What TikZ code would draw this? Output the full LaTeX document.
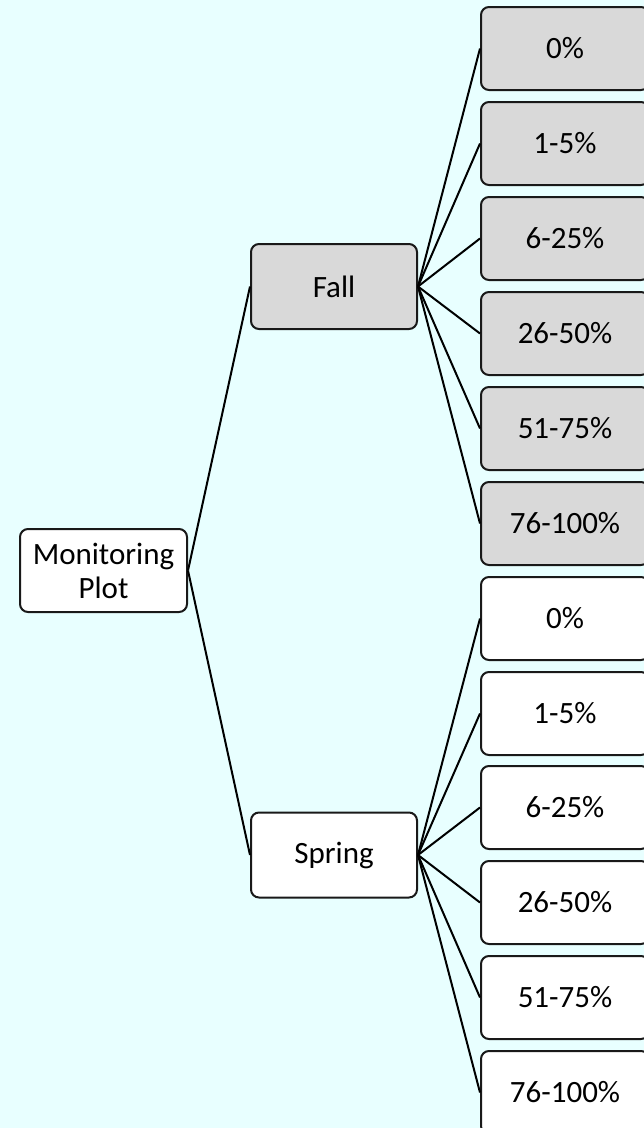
\documentclass[tikz,border=0pt]{standalone}
\usepackage{fontspec}
\setmainfont{Carlito}
\definecolor{bgcyan}{RGB}{232,255,255}
\definecolor{boxgray}{RGB}{217,217,217}
\definecolor{edgedark}{RGB}{25,25,25}
\tikzset{
  box/.style={draw=edgedark, line width=2pt, rounded corners=8pt, rectangle,
    align=center, inner sep=0pt, font=\fontsize{31}{34}\selectfont, text=black},
  rootbox/.style={box, fill=white, minimum width=167pt, minimum height=83pt},
  midbox/.style={box, minimum width=166pt, minimum height=85pt},
  leafbox/.style={box, minimum width=168pt, minimum height=83pt},
  fallfill/.style={fill=boxgray},
  springfill/.style={fill=white},
  link/.style={draw=black, line width=2pt}
}
\begin{document}
\begin{tikzpicture}[x=1pt, y=-1pt]
\useasboundingbox (0,0) rectangle (644,1128);
\clip (0,0) rectangle (644,1128);
\fill[bgcyan] (0,0) rectangle (644,1128);

\node[rootbox] (mp) at (103.5,570.5) {Monitoring\\Plot};
\node[midbox, fallfill] (fall) at (334,286.5) {Fall};
\node[midbox, springfill] (spring) at (334,855) {Spring};

\node[leafbox, fallfill] (f1) at (565,48.5) {0\%};
\node[leafbox, fallfill] (f2) at (565,143.5) {1-5\%};
\node[leafbox, fallfill] (f3) at (565,238.5) {6-25\%};
\node[leafbox, fallfill] (f4) at (565,333.5) {26-50\%};
\node[leafbox, fallfill] (f5) at (565,428.5) {51-75\%};
\node[leafbox, fallfill] (f6) at (565,523.5) {76-100\%};

\node[leafbox, springfill] (s1) at (565,618.5) {0\%};
\node[leafbox, springfill] (s2) at (565,713.5) {1-5\%};
\node[leafbox, springfill] (s3) at (565,807.5) {6-25\%};
\node[leafbox, springfill] (s4) at (565,902.5) {26-50\%};
\node[leafbox, springfill] (s5) at (565,997.5) {51-75\%};
\node[leafbox, springfill] (s6) at (565,1092.5) {76-100\%};

\draw[link] (mp.east) -- (fall.west);
\draw[link] (mp.east) -- (spring.west);
\foreach \i in {1,...,6} {
  \draw[link] (fall.east) -- (f\i.west);
  \draw[link] (spring.east) -- (s\i.west);
}
\end{tikzpicture}
\end{document}
